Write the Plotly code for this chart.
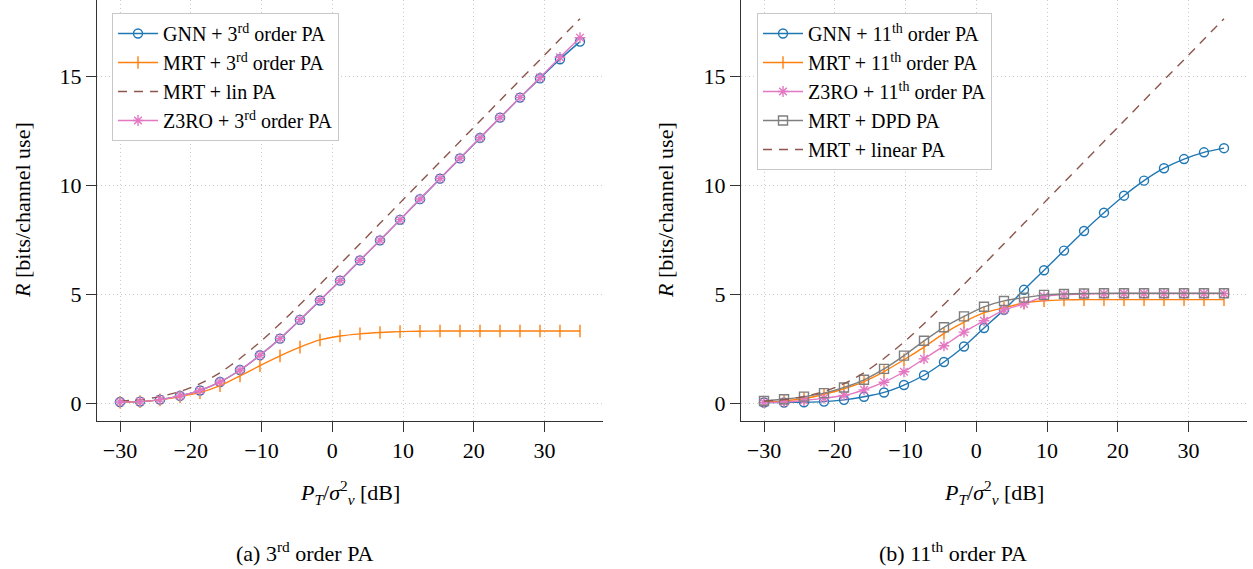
import plotly.graph_objects as go
from plotly.subplots import make_subplots

# transmit SNR grid P_T / sigma_v^2 in dB (24 points, -30 .. 35)
snr_db = [-30, -27.17, -24.35, -21.52, -18.7, -15.87, -13.04, -10.22, -7.39, -4.57,
          -1.74, 1.09, 3.91, 6.74, 9.57, 12.39, 15.22, 18.04, 20.87, 23.7,
          26.52, 29.35, 32.17, 35]

# (a) 3rd order PA
gnn_3rd = [0.05, 0.07, 0.16, 0.33, 0.58, 0.97, 1.52, 2.2, 2.96, 3.82, 4.71, 5.62,
           6.55, 7.47, 8.41, 9.36, 10.3, 11.23, 12.17, 13.1, 14.02, 14.91, 15.78, 16.59]
mrt_3rd = [0.04, 0.07, 0.15, 0.3, 0.48, 0.8, 1.25, 1.72, 2.17, 2.57, 2.9, 3.08,
           3.18, 3.24, 3.28, 3.3, 3.31, 3.31, 3.31, 3.31, 3.31, 3.31, 3.31, 3.31]
z3ro_3rd = [0.05, 0.07, 0.16, 0.33, 0.58, 0.97, 1.52, 2.2, 2.97, 3.83, 4.72, 5.63,
            6.56, 7.48, 8.42, 9.37, 10.31, 11.24, 12.18, 13.11, 14.03, 14.94, 15.87, 16.77]
mrt_lin = [0.09, 0.16, 0.3, 0.53, 0.89, 1.39, 2.05, 2.8, 3.64, 4.53, 5.45, 6.38,
           7.31, 8.25, 9.19, 10.13, 11.07, 12.01, 12.95, 13.89, 14.83, 15.76, 16.7, 17.64]

# (b) 11th order PA
gnn_11th = [0.03, 0.03, 0.04, 0.07, 0.15, 0.29, 0.49, 0.83, 1.28, 1.89, 2.6, 3.45,
            4.28, 5.2, 6.1, 7.0, 7.9, 8.74, 9.52, 10.21, 10.78, 11.2, 11.51, 11.7]
mrt_11th = [0.05, 0.1, 0.21, 0.41, 0.66, 0.99, 1.45, 1.99, 2.57, 3.2, 3.72, 4.15,
            4.38, 4.6, 4.7, 4.74, 4.75, 4.75, 4.75, 4.75, 4.75, 4.75, 4.75, 4.75]
z3ro_11th = [0.03, 0.05, 0.12, 0.23, 0.35, 0.61, 0.96, 1.44, 2.03, 2.63, 3.26, 3.78,
             4.28, 4.55, 4.89, 4.98, 5.01, 5.02, 5.03, 5.03, 5.03, 5.03, 5.03, 5.03]
mrt_dpd = [0.1, 0.18, 0.3, 0.46, 0.72, 1.07, 1.57, 2.18, 2.86, 3.48, 3.98, 4.42,
           4.69, 4.84, 4.97, 5.01, 5.03, 5.04, 5.04, 5.04, 5.04, 5.04, 5.04, 5.04]

x_ticks = [-30, -20, -10, 0, 10, 20, 30]
x_ticktext = ['\u221230', '\u221220', '\u221210', '0', '10', '20', '30']
y_ticks = [0, 5, 10, 15]

W, H = 1253, 569
FONT = 'Liberation Serif'
BLUE, ORANGE, BROWN, PINK, GRAY = '#1f77b4', '#ff7f0e', '#8c564b', '#e377c2', '#7f7f7f'

fig = make_subplots(rows=1, cols=2)


def add(col, y, name, color, symbol=None, dash='solid', legend='legend'):
    tr = dict(x=snr_db, y=y, name=name, legend=legend,
              line=dict(color=color, width=1.4, dash=dash, shape='spline', smoothing=0.5))
    if symbol:
        tr['mode'] = 'lines+markers'
        tr['marker'] = dict(symbol=symbol, size=9, color=color, line=dict(color=color, width=1.4))
    else:
        tr['mode'] = 'lines'
    fig.add_trace(go.Scatter(**tr), row=1, col=col)


add(1, gnn_3rd, 'GNN + 3<sup>rd</sup> order PA', BLUE, 'circle-open')
add(1, mrt_3rd, 'MRT + 3<sup>rd</sup> order PA', ORANGE, 'line-ns-open')
add(1, mrt_lin, 'MRT + lin PA', BROWN, dash='9px,7px')
add(1, z3ro_3rd, 'Z3RO + 3<sup>rd</sup> order PA', PINK, 'asterisk-open')

add(2, gnn_11th, 'GNN + 11<sup>th</sup> order PA', BLUE, 'circle-open', legend='legend2')
add(2, mrt_11th, 'MRT + 11<sup>th</sup> order PA', ORANGE, 'line-ns-open', legend='legend2')
add(2, z3ro_11th, 'Z3RO + 11<sup>th</sup> order PA', PINK, 'asterisk-open', legend='legend2')
add(2, mrt_dpd, 'MRT + DPD PA', GRAY, 'square-open', legend='legend2')
add(2, mrt_lin, 'MRT + linear PA', BROWN, dash='9px,7px', legend='legend2')

axis_common = dict(showline=True, linecolor='#333333', linewidth=1, mirror=False,
                   ticks='outside', ticklen=10, tickcolor='#333333', tickwidth=1,
                   showgrid=True, gridcolor='#cccccc', griddash='1px,3px', gridwidth=1,
                   zeroline=False, automargin=False,
                   tickfont=dict(family=FONT, size=22, color='black'))

y_dom = [1 - 421 / H, 1]
fig.update_xaxes(**axis_common, range=[-33.25, 38.25], tickvals=x_ticks, ticktext=x_ticktext)
fig.update_yaxes(**axis_common, range=[-0.82, 18.5], tickvals=y_ticks, domain=y_dom)
fig.update_xaxes(domain=[97 / W, 603 / W], row=1, col=1)
fig.update_xaxes(domain=[741 / W, 1247 / W], row=1, col=2)

legend_common = dict(xanchor='left', yanchor='top', bgcolor='white',
                     bordercolor='#c8c8c8', borderwidth=1, itemwidth=40,
                     font=dict(family=FONT, size=20, color='black'))

txt_font = dict(family=FONT, size=22, color='black')
annotations = []
for cx, ylx, capx, cap in [(350, 22, 304, '(a) 3<sup>rd</sup> order PA'),
                           (994, 665, 953, '(b) 11<sup>th</sup> order PA')]:
    annotations.append(dict(x=cx / W, y=1 - 492 / H, xref='paper', yref='paper',
                            xanchor='center', yanchor='middle', showarrow=False,
                            text='<i>P</i><sub><i>T</i></sub>/<i>\u03c3</i><sup>2</sup><sub><i>v</i></sub> [dB]',
                            font=txt_font))
    annotations.append(dict(x=ylx / W, y=1 - 210 / H, xref='paper', yref='paper',
                            xanchor='center', yanchor='middle', showarrow=False,
                            text='<i>R</i> [bits/channel use]', textangle=-90,
                            font=txt_font))
    annotations.append(dict(x=capx / W, y=1 - 552 / H, xref='paper', yref='paper',
                            xanchor='center', yanchor='middle', showarrow=False,
                            text=cap, font=txt_font))

fig.update_layout(
    width=W, height=H,
    margin=dict(l=0, r=0, t=0, b=0),
    paper_bgcolor='white', plot_bgcolor='white',
    font=dict(family=FONT, color='black'),
    legend=dict(x=112 / W, y=1 - 13 / H, **legend_common),
    legend2=dict(x=757 / W, y=1 - 13 / H, **legend_common),
    annotations=annotations,
)

# drop the default 8px body margin so the figure sits at the page origin
fig.write_html("out.html", config={'displayModeBar': False},
               post_script="document.body.style.margin = '0';")
